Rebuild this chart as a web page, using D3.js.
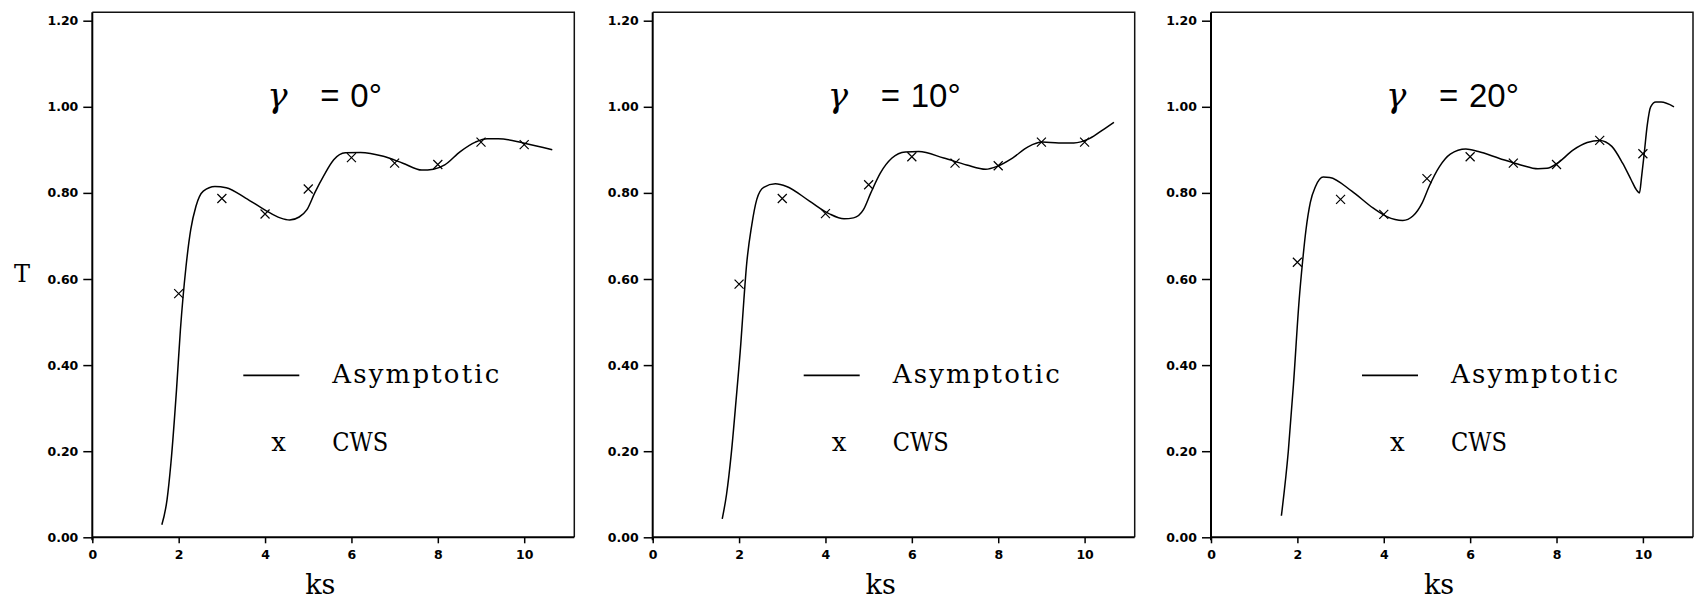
<!DOCTYPE html>
<html>
<head>
<meta charset="utf-8">
<script src="https://cdn.jsdelivr.net/npm/d3@7"></script>
<style>
  body { margin: 0; background: #fff; }
  svg { display: block; }
</style>
</head>
<body>
<div id="chart"></div>
<script>
// CWS sample points (same ks for all three panels)
var ksPoints = [2, 3, 4, 5, 6, 7, 8, 9, 10];
var cwsGamma0 = [0.566, 0.787, 0.751, 0.809, 0.882, 0.869, 0.866, 0.918, 0.912];
var cwsGamma10 = [0.588, 0.787, 0.752, 0.819, 0.884, 0.869, 0.863, 0.918, 0.918];
var cwsGamma20 = [0.639, 0.785, 0.750, 0.833, 0.884, 0.869, 0.866, 0.922, 0.891];

// Asymptotic curves, [ks, T]
var asymGamma0 = [[1.61,0.029],[1.73,0.087],[1.82,0.172],[1.95,0.343],[2.04,0.482],[2.17,0.629],[2.28,0.715],[2.40,0.769],[2.57,0.804],[2.84,0.815],[3.10,0.812],[3.55,0.788],[4.02,0.759],[4.35,0.742],[4.57,0.737],[4.79,0.744],[4.97,0.761],[5.15,0.800],[5.37,0.842],[5.59,0.877],[5.86,0.893],[6.21,0.894],[6.74,0.885],[7.19,0.869],[7.63,0.853],[7.90,0.855],[8.16,0.865],[8.52,0.896],[8.87,0.918],[9.14,0.926],[9.40,0.926],[9.98,0.916],[10.65,0.900]];
var asymGamma10 = [[1.61,0.043],[1.71,0.100],[1.82,0.195],[1.93,0.318],[2.04,0.450],[2.11,0.550],[2.17,0.629],[2.29,0.723],[2.41,0.785],[2.57,0.813],[2.84,0.821],[3.10,0.815],[3.63,0.781],[4.08,0.752],[4.43,0.740],[4.65,0.742],[4.88,0.761],[5.05,0.800],[5.27,0.846],[5.54,0.881],[5.85,0.895],[6.16,0.896],[6.74,0.881],[7.27,0.865],[7.71,0.855],[7.98,0.862],[8.33,0.881],[8.69,0.907],[9.02,0.918],[9.40,0.916],[9.75,0.916],[10.11,0.926],[10.46,0.949],[10.68,0.964]];
var asymGamma20 = [[1.63,0.050],[1.79,0.200],[1.91,0.356],[2.04,0.550],[2.12,0.640],[2.20,0.715],[2.30,0.778],[2.42,0.815],[2.60,0.837],[2.75,0.836],[3.26,0.804],[3.75,0.765],[4.07,0.745],[4.44,0.736],[4.68,0.747],[4.89,0.777],[5.05,0.815],[5.29,0.861],[5.54,0.890],[5.90,0.902],[6.19,0.896],[6.68,0.880],[7.17,0.865],[7.57,0.856],[7.78,0.857],[8.02,0.869],[8.39,0.900],[8.71,0.917],[9.00,0.922],[9.28,0.908],[9.53,0.869],[9.73,0.830],[9.85,0.807],[9.92,0.800],[9.97,0.838],[10.03,0.891],[10.10,0.957],[10.18,1.000],[10.30,1.011],[10.42,1.011],[10.72,1.000]];

var gammaLabels = ["0°", "10°", "20°"];
var xTicks = [0, 2, 4, 6, 8, 10];
var yTicks = [0, 0.2, 0.4, 0.6, 0.8, 1.0, 1.2];

var panels = [
    { label: gammaLabels[0], cws: cwsGamma0, asym: asymGamma0 },
    { label: gammaLabels[1], cws: cwsGamma10, asym: asymGamma10 },
    { label: gammaLabels[2], cws: cwsGamma20, asym: asymGamma20 }
];

// layout
var panelLeft = [92.3, 652.7, 1211],
    panelTop = 12.3,
    width = 482,
    height = 525;

var svg = d3.select("#chart")
    .append("svg")
    .attr("width", 1694)
    .attr("height", 600);

var x = d3.scaleLinear().domain([0, 11.16]).range([0, width]);
var y = d3.scaleLinear().domain([0, 1.2]).range([height, 8.4]);

var serif = "'DejaVu Serif', serif";
var sans = "'Liberation Sans', Arial, sans-serif";

panels.forEach(function (p, i) {
    var g = svg.append("g")
        .attr("transform", "translate(" + panelLeft[i] + "," + panelTop + ")");

    // frame (top / right)
    g.append("path")
        .attr("d", "M0,0H" + width + "V" + height)
        .attr("fill", "none")
        .attr("stroke", "#111")
        .attr("stroke-width", 1.5);

    // y axis
    var yAxis = g.append("g")
        .call(d3.axisLeft(y).tickValues(yTicks).tickFormat(d3.format(".2f")).tickSize(9).tickPadding(5));
    yAxis.select(".domain").remove();
    yAxis.selectAll("line").attr("stroke-width", 1.5);
    yAxis.selectAll("text")
        .style("font-family", "'DejaVu Sans', sans-serif")
        .style("font-weight", "bold")
        .style("font-size", "12.5px")
        .attr("fill", "#000");

    // x axis
    var xAxis = g.append("g")
        .attr("transform", "translate(0," + height + ")")
        .call(d3.axisBottom(x).tickValues(xTicks).tickFormat(d3.format("d")).tickSize(6).tickPadding(7));
    xAxis.select(".domain").remove();
    xAxis.selectAll("line").attr("stroke-width", 1.5);
    xAxis.selectAll("text")
        .style("font-family", "'DejaVu Sans', sans-serif")
        .style("font-weight", "bold")
        .style("font-size", "12.5px")
        .attr("fill", "#000");

    // axis lines
    g.append("line")
        .attr("x1", 0).attr("x2", 0).attr("y1", 0).attr("y2", height + 3)
        .attr("stroke", "#000").attr("stroke-width", 2);
    g.append("line")
        .attr("x1", 0).attr("x2", width).attr("y1", height).attr("y2", height)
        .attr("stroke", "#000").attr("stroke-width", 2);

    // asymptotic curve
    var line = d3.line()
        .x(d => x(d[0]))
        .y(d => y(d[1]))
        .curve(d3.curveMonotoneX);
    g.append("path")
        .datum(p.asym)
        .attr("d", line)
        .attr("fill", "none")
        .attr("stroke", "#000")
        .attr("stroke-width", 1.5);

    // CWS crosses
    var s = 4.5;
    g.selectAll("cross")
        .data(p.cws.map((v, j) => [ksPoints[j], v]))
        .enter()
        .append("path")
        .attr("d", d => {
            var cx = x(d[0]), cy = y(d[1]);
            return "M" + (cx - s) + "," + (cy - s) + "L" + (cx + s) + "," + (cy + s) +
                "M" + (cx - s) + "," + (cy + s) + "L" + (cx + s) + "," + (cy - s);
        })
        .attr("stroke", "#000")
        .attr("stroke-width", 1.2);

    // title
    g.append("text")
        .attr("x", 175).attr("y", 95)
        .style("font-family", serif)
        .style("font-style", "italic")
        .style("font-size", "34px")
        .text("γ");
    g.append("text")
        .attr("x", 228).attr("y", 95)
        .style("font-family", sans)
        .style("font-size", "33px")
        .text("=");
    g.append("text")
        .attr("x", 258).attr("y", 95)
        .style("font-family", sans)
        .style("font-size", "33px")
        .text(p.label);

    // legend
    g.append("line")
        .attr("x1", 151).attr("x2", 207)
        .attr("y1", 363).attr("y2", 363)
        .attr("stroke", "#000")
        .attr("stroke-width", 1.8);
    g.append("text")
        .attr("x", 240).attr("y", 371)
        .attr("textLength", 167)
        .attr("lengthAdjust", "spacing")
        .style("font-family", serif)
        .style("font-size", "26px")
        .text("Asymptotic");
    g.append("text")
        .attr("x", 179).attr("y", 439)
        .style("font-family", serif)
        .style("font-size", "26px")
        .text("x");
    g.append("text")
        .attr("x", 240).attr("y", 439)
        .attr("textLength", 56)
        .attr("lengthAdjust", "spacingAndGlyphs")
        .style("font-family", serif)
        .style("font-size", "26px")
        .text("CWS");

    // x label
    g.append("text")
        .attr("x", x(5.28)).attr("y", 582)
        .attr("text-anchor", "middle")
        .style("font-family", serif)
        .style("font-size", "27px")
        .text("ks");
});

// y label (first panel only)
svg.append("text")
    .attr("x", 22).attr("y", 282)
    .attr("text-anchor", "middle")
    .style("font-family", serif)
    .style("font-size", "24px")
    .text("T");
</script>
</body>
</html>
